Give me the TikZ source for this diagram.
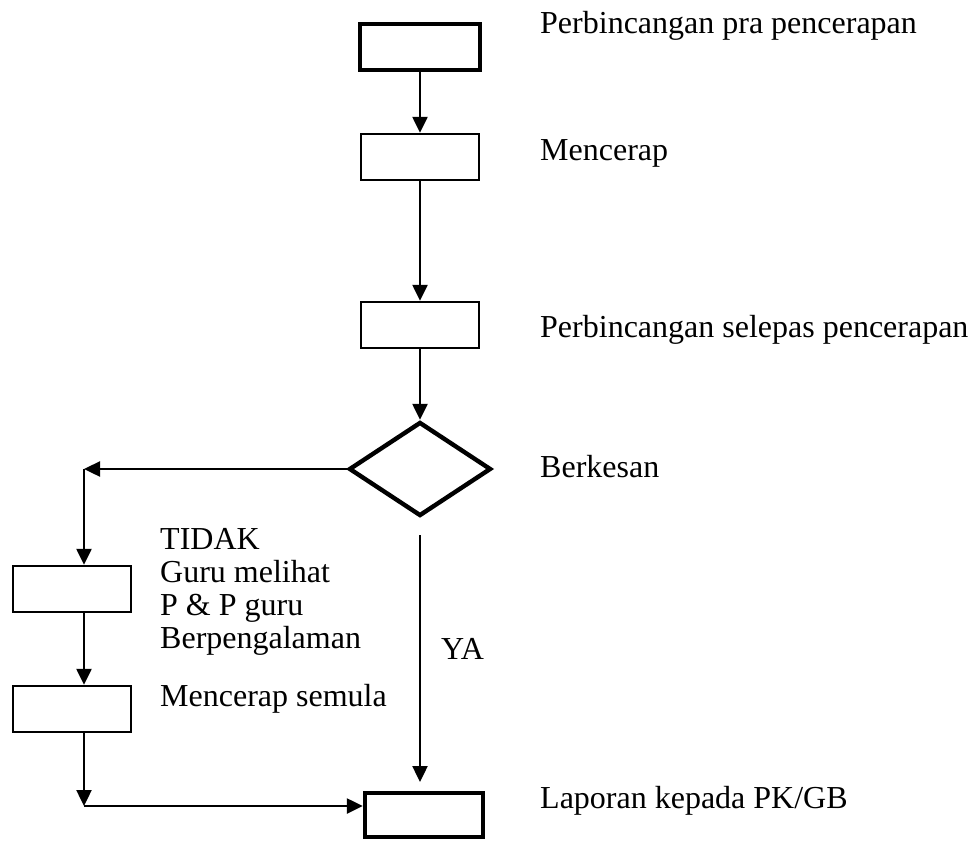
\documentclass[tikz,border=0pt]{standalone}
\usepackage{fontspec}
\setmainfont{Liberation Serif}
\usetikzlibrary{arrows.meta,shapes.geometric}

\tikzset{
  box/.style={draw, line width=2.4pt, minimum width=118pt, minimum height=46pt, inner sep=0pt},
  boldbox/.style={draw, line width=4.4pt, minimum width=120pt, minimum height=46pt, inner sep=0pt},
  arr/.style={line width=2.4pt, -{Triangle[length=16pt,width=15pt]}},
  label/.style={anchor=base west, inner sep=0pt, font=\fontsize{32}{33}\selectfont}
}

\begin{document}
\begin{tikzpicture}[x=1pt, y=-1pt]
			
			\useasboundingbox (0,0) rectangle (974,841);
			
			\node[boldbox] (praBox) at (420,47) {};
			\node[box] (cerapBox) at (420,157) {};
			\node[box] (selepasBox) at (420,325) {};
			\node[draw, diamond, line width=4.4pt, minimum width=142pt, minimum height=94pt, inner sep=0pt] (berkesan) at (420,469) {};
			
			\node[box] (tidakBox) at (72,589) {};
			\node[box] (semulaBox) at (72,709) {};
			\node[boldbox, minimum width=118pt, minimum height=44pt] (laporanBox) at (424,815) {};
			
			\coordinate (kiri) at (84,469);
			\coordinate (bawah) at (84,806);
			\coordinate (yaMula) at (420,535);
			\coordinate (yaHujung) at (420,782);
			
			\node[label] (txtPra) at (540,33) {Perbincangan pra pencerapan};
			\node[label] (txtCerap) at (540,160) {Mencerap};
			\node[label] (txtSelepas) at (540,337) {Perbincangan selepas pencerapan};
			\node[label] (txtBerkesan) at (540,477) {Berkesan};
			
			\node[label] (txtTidak) at (160,549) {TIDAK};
			\node[label] (txtGuru) at (160,582) {Guru melihat};
			\node[label] (txtPP) at (160,615) {P \& P guru};
			\node[label] (txtPengalaman) at (160,648) {Berpengalaman};
			\node[label] (txtSemula) at (160,706) {Mencerap semula};
			\node[label] (txtYa) at (441,659) {YA};
			\node[label] (txtLaporan) at (540,808) {Laporan kepada PK/GB};
			
			\draw[arr] (praBox) -- (cerapBox);
			\draw[arr] (cerapBox) -- (selepasBox);
			\draw[arr] (selepasBox) -- (berkesan);
			\draw[arr] (berkesan.west) -- (kiri);
			\draw[arr] (kiri) -- (kiri |- tidakBox.north);
			\draw[arr] (kiri |- tidakBox.south) -- (kiri |- semulaBox.north);
			\draw[arr] (kiri |- semulaBox.south) -- (bawah);
			\draw[arr] (bawah) -- (bawah -| laporanBox.west);
			\draw[arr] (yaMula) -- (yaHujung);
			
\end{tikzpicture}
\end{document}
